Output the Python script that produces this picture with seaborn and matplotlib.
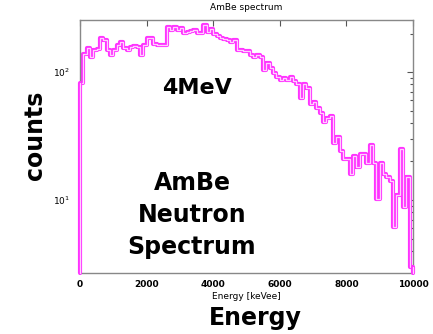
import numpy as np
import pandas as pd
import matplotlib
matplotlib.use("Agg")
import matplotlib.pyplot as plt
import seaborn as sns

# ---- data ----
bin_edges = list(range(0, 10001, 100))   # keVee, 100 bins
counts = [
    82, 138, 154, 131, 149, 151, 184, 178, 149, 136,
    149, 162, 172, 154, 149, 157, 160, 157, 136, 162,
    184, 184, 165, 162, 162, 162, 225, 213, 225, 213,
    221, 202, 205, 209, 213, 202, 202, 233, 205, 217,
    198, 191, 184, 181, 178, 172, 178, 149, 149, 146,
    146, 136, 131, 136, 131, 104, 118, 108, 98, 91,
    87, 90, 87, 91, 85, 81, 63, 81, 75, 56,
    58, 52, 48, 41, 44, 45, 28, 31, 24, 21,
    21, 16, 22, 18, 23, 23, 19.5, 27, 19.5, 10.2,
    19.5, 16, 15, 14, 6.2, 11, 25, 8.8, 15, 3.0,
]
xticks = [0, 2000, 4000, 6000, 8000, 10000]
title = "AmBe spectrum"
xlabel = "Energy [keVee]"

centers = [(a + b) / 2 for a, b in zip(bin_edges[:-1], bin_edges[1:])]
df = pd.DataFrame({"energy": centers, "counts": counts})

sns.set_style("white")
plt.rcParams["font.family"] = ["DejaVu Sans"]
plt.rcParams["text.color"] = "black"
plt.rcParams["axes.labelcolor"] = "black"
plt.rcParams["xtick.color"] = "#555555"
plt.rcParams["ytick.color"] = "#555555"
plt.rcParams["xtick.labelcolor"] = "black"
plt.rcParams["ytick.labelcolor"] = "black"

YMIN, YMAX = 2.69, 255

fig = plt.figure(figsize=(4.33, 3.34), dpi=100)
ax = fig.add_axes([80 / 433, 1 - 273 / 334, 333 / 433, 253 / 334])

outer = dict(color="#ff33ff", linewidth=3.0)
inner = dict(color="#ffd0ff", linewidth=0.9)
for kw in (outer, inner):
    sns.histplot(data=df, x="energy", weights="counts", bins=bin_edges,
                 element="step", fill=False, ax=ax, **kw)
for kw in (outer, inner):
    # closing edges of the step outline down to the baseline
    ax.plot([bin_edges[0], bin_edges[0]], [YMIN, counts[0]], zorder=3,
            clip_on=False, **kw)
    ax.plot([bin_edges[-1], bin_edges[-1]], [YMIN, counts[-1]], zorder=3,
            clip_on=False, **kw)

ax.set_yscale("log")
ax.set_xlim(0, 10000)
ax.set_ylim(YMIN, YMAX)
ax.set_xticks(xticks)
ax.set_xticklabels([str(t) for t in xticks], fontsize=6.5, fontweight="bold")
ax.tick_params(axis="both", which="both", direction="in", top=True, right=True,
               width=0.8)
ax.tick_params(axis="both", which="major", length=4, labelsize=6.5)
ax.tick_params(axis="y", which="minor", length=2.5)
ax.tick_params(axis="x", pad=5)
ax.tick_params(axis="y", pad=7)
for s in ax.spines.values():
    s.set_color("#888888")
    s.set_linewidth(1.0)

ax.set_title(title, fontsize=6.5, pad=7)
ax.set_xlabel(xlabel, fontsize=6.5, labelpad=2)
ax.set_ylabel("")

fig.text(35 / 433, 1 - 135 / 334, "counts", rotation=90, ha="center", va="center",
         fontsize=17, fontweight="bold")
fig.text(255 / 433, 1 - 318 / 334, "Energy", ha="center", va="center",
         fontsize=17, fontweight="bold")
fig.text(197 / 433, 1 - 88 / 334, "4MeV", ha="center", va="center",
         fontsize=16, fontweight="bold")
fig.text(192 / 433, 1 - 215 / 334, "AmBe\nNeutron\nSpectrum", ha="center", va="center",
         fontsize=17, fontweight="bold", linespacing=1.4)

fig.savefig("out.png", dpi=100)
